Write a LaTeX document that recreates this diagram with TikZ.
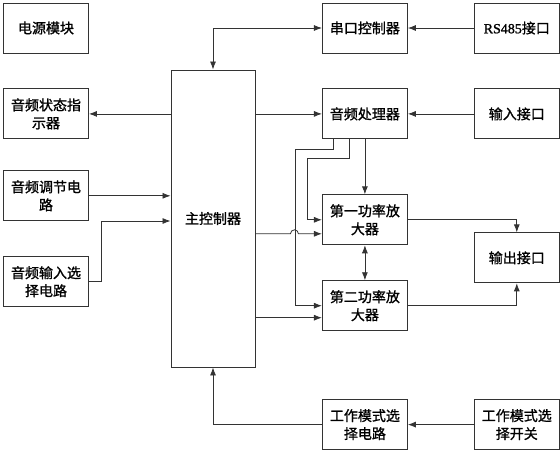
\documentclass[tikz,border=0pt]{standalone}
\usepackage{fontspec}
\usepackage{tikz}
\usetikzlibrary{arrows.meta, positioning}
\newfontfamily\cjk[FakeBold=1.2]{Noto Sans CJK SC}
\newfontfamily\latinserif[FakeBold=1.2]{Liberation Serif}

\begin{document}
\begin{tikzpicture}[
  block/.style={rectangle, draw=black!80, line width=0.9pt, minimum width=85pt, minimum height=50pt, align=center, inner sep=2pt, font=\cjk\fontsize{14}{18}\selectfont},
  arrow/.style={-{Latex[length=8pt,width=6pt]}, line width=0.8pt, draw=black!80},
  twoway/.style={{Latex[length=8pt,width=6pt]}-{Latex[length=8pt,width=6pt]}, line width=0.8pt, draw=black!80}
]
\useasboundingbox (0,0) rectangle (560pt,-450pt);

% Nodes
\node[block] (power) at (46pt,-28pt) {电源模块};
\node[block, below=35pt of power] (status) {音频状态指\\示器};
\node[block, below=31pt of status] (adjust) {音频调节电\\路};
\node[block, below=35pt of adjust] (insel) {音频输入选\\择电路};
\node[block, minimum width=84pt, minimum height=297pt] (main) at (213pt,-218.5pt) {主控制器};
\node[block, right=233pt of power] (serial) {串口控制器};
\node[block, right=66pt of serial] (rs485) {{\latinserif RS485}接口};
\node[block, below=35pt of serial] (proc) {音频处理器};
\node[block, right=66pt of proc] (input) {输入接口};
\node[block, below=55pt of proc] (amp1) {第一功率放\\大器};
\node[block, below=35pt of amp1] (amp2) {第二功率放\\大器};
\node[block, right=66pt of amp1, yshift=-38pt] (output) {输出接口};
\node[block, below=68pt of amp2] (mode) {工作模式选\\择电路};
\node[block, right=66pt of mode] (switch) {工作模式选\\择开关};

% Arrows
\draw[twoway] (serial.west) -| (main.north);
\draw[arrow] (rs485) -- (serial);
\draw[arrow] (input) -- (proc);
\draw[arrow] (status.east -| main.west) -- (status.east);
\draw[arrow] (proc.west -| main.east) -- (proc.west);
\draw[arrow] (adjust.east) -- (adjust.east -| main.west);
\draw[arrow] (insel.east) -- ++(12pt,0) |- ([yshift=-2.5pt]main.west);
\draw[arrow] (proc.south) -- (amp1.north);
\draw[arrow] ([xshift=-16pt]proc.south) -- ++(0,-19pt) -| ([xshift=-15pt]amp1.west) -- (amp1.west);
\draw[arrow] ([xshift=-32pt]proc.south) -- ++(0,-10pt) -| ([xshift=-27pt]amp2.west) -- (amp2.west);
\draw[arrow] ([yshift=-14pt]amp1.west -| main.east) -- ++(35pt,0) arc[start angle=180, end angle=0, radius=4pt] -- ([yshift=-14pt]amp1.west);
\draw[arrow] ([yshift=-12pt]amp2.west -| main.east) -- ([yshift=-12pt]amp2.west);
\draw[twoway] (amp1.south) -- (amp2.north);
\draw[arrow] (amp1.east) -| (output.north);
\draw[arrow] (amp2.east) -| (output.south);
\draw[arrow] (switch) -- (mode);
\draw[arrow] (mode.west) -| (main.south);

\end{tikzpicture}
\end{document}
